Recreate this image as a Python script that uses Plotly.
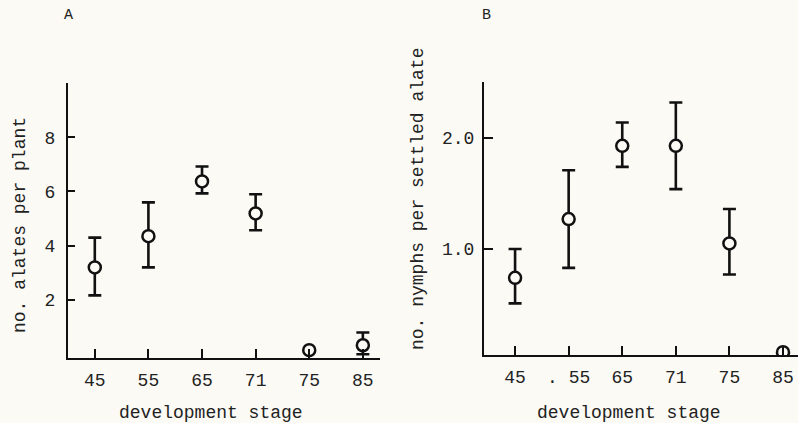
import plotly.graph_objects as go

stages = ["45", "55", "65", "71", "75", "85"]
stages_b = ["45", ". 55", "65", "71", "75", "85"]

# Panel A: no. alates per plant
alates_mean = [3.2, 4.35, 6.37, 5.19, 0.15, 0.33]
alates_upper = [4.3, 5.6, 6.92, 5.9, 0.15, 0.8]
alates_lower = [2.17, 3.2, 5.93, 4.57, 0.15, 0.0]

# Panel B: no. nymphs per settled alate
nymphs_mean = [0.74, 1.27, 1.93, 1.93, 1.05, 0.07]
nymphs_upper = [1.0, 1.71, 2.14, 2.32, 1.36, 0.07]
nymphs_lower = [0.51, 0.83, 1.74, 1.54, 0.77, 0.07]

W, H = 798, 423
BG = "#fbfaf5"
INK = "#111111"
TXT = "#222222"
FONT = "Liberation Mono"

idx = list(range(len(stages)))


def errs(mean, up, lo):
    plus = [u - m for u, m in zip(up, mean)]
    minus = [m - l for m, l in zip(mean, lo)]
    return plus, minus


fig = go.Figure()
for (mean, up, lo, xa, ya) in [
    (alates_mean, alates_upper, alates_lower, "x", "y"),
    (nymphs_mean, nymphs_upper, nymphs_lower, "x2", "y2"),
]:
    p, m = errs(mean, up, lo)
    fig.add_trace(go.Scatter(
        x=idx, y=mean, mode="markers", xaxis=xa, yaxis=ya,
        marker=dict(symbol="circle", size=12, color=BG,
                    line=dict(color=INK, width=2.5)),
        error_y=dict(type="data", array=p, arrayminus=m, visible=True,
                     color=INK, thickness=2.6, width=6.5),
        showlegend=False, hoverinfo="skip",
    ))

axis_common = dict(showgrid=False, zeroline=False, showline=True,
                   linecolor=INK, linewidth=2.2, ticks="inside",
                   tickcolor=INK, tickwidth=2.2,
                   tickfont=dict(family=FONT, size=18, color=TXT))

fig.update_layout(
    width=W, height=H, margin=dict(l=0, r=0, t=0, b=0),
    paper_bgcolor=BG, plot_bgcolor=BG,
    xaxis=dict(domain=[68 / W, 380 / W], range=[-0.5, 5.32],
               tickvals=idx, ticktext=stages, ticklen=9,
               ticklabelstandoff=4, anchor="y", **axis_common),
    yaxis=dict(domain=[1 - 358 / H, 1 - 83 / H], range=[-0.14, 10],
               tickvals=[2, 4, 6, 8], ticktext=["2", "4", "6", "8"],
               ticklen=7, ticklabelstandoff=7, anchor="x", **axis_common),
    xaxis2=dict(domain=[484 / W, 1.0], range=[-0.58, 5.28],
                tickvals=idx, ticktext=stages_b, ticklen=9,
                ticklabelstandoff=4, anchor="y2", **axis_common),
    yaxis2=dict(domain=[1 - 355 / H, 1 - 82 / H], range=[0.045, 2.505],
                tickvals=[1.0, 2.0], ticktext=["1.0", "2.0"],
                ticklen=9, ticklabelstandoff=4, anchor="x2", **axis_common),
)

ann_font = dict(family=FONT, size=18, color=TXT)
annotations = [
    dict(text="A", x=68 / W, y=1 - 15 / H, font=dict(family=FONT, size=15, color=TXT)),
    dict(text="B", x=486 / W, y=1 - 15 / H, font=dict(family=FONT, size=15, color=TXT)),
    dict(text="no. alates per plant", x=20 / W, y=1 - 225 / H, textangle=-90, font=ann_font),
    dict(text="no. nymphs per settled alate", x=418 / W, y=1 - 199 / H, textangle=-90, font=ann_font),
    dict(text="development stage", x=211 / W, y=1 - 413 / H, font=ann_font),
    dict(text="development stage", x=629 / W, y=1 - 413 / H, font=ann_font),
]
for a in annotations:
    fig.add_annotation(xref="paper", yref="paper", showarrow=False,
                       xanchor="center", yanchor="middle", **a)

fig.write_html("out.html")
